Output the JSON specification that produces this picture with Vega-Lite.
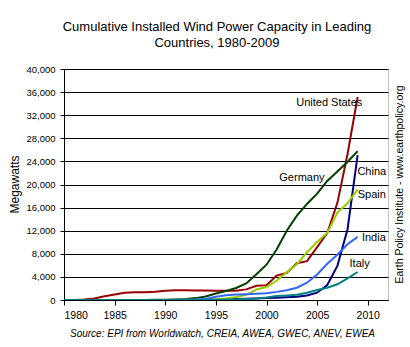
{
  "$schema": "https://vega.github.io/schema/vega-lite/v6.json",
  "width": 324,
  "height": 231,
  "autosize": "none",
  "padding": {"left": 64, "top": 69, "right": 22, "bottom": 47},
  "background": "white",
  "config": {
    "font": "Liberation Sans",
    "view": {"stroke": "#888888", "strokeDash": [1, 1], "strokeWidth": 1},
    "axis": {"labelFont": "Liberation Sans", "titleFont": "Liberation Sans", "labelColor": "black", "titleColor": "black", "titleFontWeight": "normal"}
  },
  "title": {
    "text": ["Cumulative Installed Wind Power Capacity in Leading", "Countries, 1980-2009"],
    "font": "Liberation Sans",
    "fontSize": 13,
    "fontWeight": "normal",
    "color": "black",
    "anchor": "middle",
    "frame": "group",
    "dx": -9,
    "offset": 14,
    "lineHeight": 16
  },
  "datasets": {
    "wind": [
      {"country": "United States", "year": 1980, "mw": 8}, {"country": "United States", "year": 1981, "mw": 18}, {"country": "United States", "year": 1982, "mw": 84}, {"country": "United States", "year": 1983, "mw": 254}, {"country": "United States", "year": 1984, "mw": 653}, {"country": "United States", "year": 1985, "mw": 945}, {"country": "United States", "year": 1986, "mw": 1265}, {"country": "United States", "year": 1987, "mw": 1333}, {"country": "United States", "year": 1988, "mw": 1331}, {"country": "United States", "year": 1989, "mw": 1432}, {"country": "United States", "year": 1990, "mw": 1584}, {"country": "United States", "year": 1991, "mw": 1709}, {"country": "United States", "year": 1992, "mw": 1680}, {"country": "United States", "year": 1993, "mw": 1635}, {"country": "United States", "year": 1994, "mw": 1663}, {"country": "United States", "year": 1995, "mw": 1612}, {"country": "United States", "year": 1996, "mw": 1614}, {"country": "United States", "year": 1997, "mw": 1611}, {"country": "United States", "year": 1998, "mw": 1837}, {"country": "United States", "year": 1999, "mw": 2472}, {"country": "United States", "year": 2000, "mw": 2539}, {"country": "United States", "year": 2001, "mw": 4232}, {"country": "United States", "year": 2002, "mw": 4687}, {"country": "United States", "year": 2003, "mw": 6370}, {"country": "United States", "year": 2004, "mw": 6725}, {"country": "United States", "year": 2005, "mw": 9149}, {"country": "United States", "year": 2006, "mw": 11575}, {"country": "United States", "year": 2007, "mw": 16824}, {"country": "United States", "year": 2008, "mw": 25237}, {"country": "United States", "year": 2009, "mw": 35159},
      {"country": "Germany", "year": 1980, "mw": 0}, {"country": "Germany", "year": 1981, "mw": 0}, {"country": "Germany", "year": 1982, "mw": 0}, {"country": "Germany", "year": 1983, "mw": 0}, {"country": "Germany", "year": 1984, "mw": 0}, {"country": "Germany", "year": 1985, "mw": 0}, {"country": "Germany", "year": 1986, "mw": 0}, {"country": "Germany", "year": 1987, "mw": 5}, {"country": "Germany", "year": 1988, "mw": 15}, {"country": "Germany", "year": 1989, "mw": 27}, {"country": "Germany", "year": 1990, "mw": 56}, {"country": "Germany", "year": 1991, "mw": 106}, {"country": "Germany", "year": 1992, "mw": 174}, {"country": "Germany", "year": 1993, "mw": 326}, {"country": "Germany", "year": 1994, "mw": 618}, {"country": "Germany", "year": 1995, "mw": 1121}, {"country": "Germany", "year": 1996, "mw": 1549}, {"country": "Germany", "year": 1997, "mw": 2081}, {"country": "Germany", "year": 1998, "mw": 2875}, {"country": "Germany", "year": 1999, "mw": 4442}, {"country": "Germany", "year": 2000, "mw": 6113}, {"country": "Germany", "year": 2001, "mw": 8754}, {"country": "Germany", "year": 2002, "mw": 11994}, {"country": "Germany", "year": 2003, "mw": 14609}, {"country": "Germany", "year": 2004, "mw": 16629}, {"country": "Germany", "year": 2005, "mw": 18428}, {"country": "Germany", "year": 2006, "mw": 20622}, {"country": "Germany", "year": 2007, "mw": 22247}, {"country": "Germany", "year": 2008, "mw": 23903}, {"country": "Germany", "year": 2009, "mw": 25777},
      {"country": "China", "year": 1980, "mw": 0}, {"country": "China", "year": 1981, "mw": 0}, {"country": "China", "year": 1982, "mw": 0}, {"country": "China", "year": 1983, "mw": 0}, {"country": "China", "year": 1984, "mw": 0}, {"country": "China", "year": 1985, "mw": 0}, {"country": "China", "year": 1986, "mw": 0}, {"country": "China", "year": 1987, "mw": 0}, {"country": "China", "year": 1988, "mw": 0}, {"country": "China", "year": 1989, "mw": 0}, {"country": "China", "year": 1990, "mw": 4}, {"country": "China", "year": 1991, "mw": 5}, {"country": "China", "year": 1992, "mw": 8}, {"country": "China", "year": 1993, "mw": 14}, {"country": "China", "year": 1994, "mw": 30}, {"country": "China", "year": 1995, "mw": 44}, {"country": "China", "year": 1996, "mw": 79}, {"country": "China", "year": 1997, "mw": 170}, {"country": "China", "year": 1998, "mw": 224}, {"country": "China", "year": 1999, "mw": 268}, {"country": "China", "year": 2000, "mw": 346}, {"country": "China", "year": 2001, "mw": 402}, {"country": "China", "year": 2002, "mw": 473}, {"country": "China", "year": 2003, "mw": 571}, {"country": "China", "year": 2004, "mw": 769}, {"country": "China", "year": 2005, "mw": 1264}, {"country": "China", "year": 2006, "mw": 2599}, {"country": "China", "year": 2007, "mw": 5912}, {"country": "China", "year": 2008, "mw": 12210}, {"country": "China", "year": 2009, "mw": 25104},
      {"country": "Spain", "year": 1980, "mw": 0}, {"country": "Spain", "year": 1981, "mw": 0}, {"country": "Spain", "year": 1982, "mw": 0}, {"country": "Spain", "year": 1983, "mw": 0}, {"country": "Spain", "year": 1984, "mw": 0}, {"country": "Spain", "year": 1985, "mw": 0}, {"country": "Spain", "year": 1986, "mw": 0}, {"country": "Spain", "year": 1987, "mw": 0}, {"country": "Spain", "year": 1988, "mw": 0}, {"country": "Spain", "year": 1989, "mw": 0}, {"country": "Spain", "year": 1990, "mw": 7}, {"country": "Spain", "year": 1991, "mw": 7}, {"country": "Spain", "year": 1992, "mw": 50}, {"country": "Spain", "year": 1993, "mw": 60}, {"country": "Spain", "year": 1994, "mw": 75}, {"country": "Spain", "year": 1995, "mw": 115}, {"country": "Spain", "year": 1996, "mw": 249}, {"country": "Spain", "year": 1997, "mw": 512}, {"country": "Spain", "year": 1998, "mw": 880}, {"country": "Spain", "year": 1999, "mw": 1812}, {"country": "Spain", "year": 2000, "mw": 2235}, {"country": "Spain", "year": 2001, "mw": 3337}, {"country": "Spain", "year": 2002, "mw": 4825}, {"country": "Spain", "year": 2003, "mw": 6203}, {"country": "Spain", "year": 2004, "mw": 8264}, {"country": "Spain", "year": 2005, "mw": 10028}, {"country": "Spain", "year": 2006, "mw": 11623}, {"country": "Spain", "year": 2007, "mw": 15145}, {"country": "Spain", "year": 2008, "mw": 16740}, {"country": "Spain", "year": 2009, "mw": 19149},
      {"country": "India", "year": 1980, "mw": 0}, {"country": "India", "year": 1981, "mw": 0}, {"country": "India", "year": 1982, "mw": 0}, {"country": "India", "year": 1983, "mw": 0}, {"country": "India", "year": 1984, "mw": 0}, {"country": "India", "year": 1985, "mw": 0}, {"country": "India", "year": 1986, "mw": 0}, {"country": "India", "year": 1987, "mw": 0}, {"country": "India", "year": 1988, "mw": 0}, {"country": "India", "year": 1989, "mw": 0}, {"country": "India", "year": 1990, "mw": 20}, {"country": "India", "year": 1991, "mw": 39}, {"country": "India", "year": 1992, "mw": 41}, {"country": "India", "year": 1993, "mw": 79}, {"country": "India", "year": 1994, "mw": 185}, {"country": "India", "year": 1995, "mw": 576}, {"country": "India", "year": 1996, "mw": 820}, {"country": "India", "year": 1997, "mw": 940}, {"country": "India", "year": 1998, "mw": 1015}, {"country": "India", "year": 1999, "mw": 1077}, {"country": "India", "year": 2000, "mw": 1167}, {"country": "India", "year": 2001, "mw": 1407}, {"country": "India", "year": 2002, "mw": 1702}, {"country": "India", "year": 2003, "mw": 2125}, {"country": "India", "year": 2004, "mw": 3000}, {"country": "India", "year": 2005, "mw": 4430}, {"country": "India", "year": 2006, "mw": 6270}, {"country": "India", "year": 2007, "mw": 7845}, {"country": "India", "year": 2008, "mw": 9655}, {"country": "India", "year": 2009, "mw": 10925},
      {"country": "Italy", "year": 1980, "mw": 0}, {"country": "Italy", "year": 1981, "mw": 0}, {"country": "Italy", "year": 1982, "mw": 0}, {"country": "Italy", "year": 1983, "mw": 0}, {"country": "Italy", "year": 1984, "mw": 0}, {"country": "Italy", "year": 1985, "mw": 0}, {"country": "Italy", "year": 1986, "mw": 0}, {"country": "Italy", "year": 1987, "mw": 0}, {"country": "Italy", "year": 1988, "mw": 0}, {"country": "Italy", "year": 1989, "mw": 0}, {"country": "Italy", "year": 1990, "mw": 3}, {"country": "Italy", "year": 1991, "mw": 3}, {"country": "Italy", "year": 1992, "mw": 8}, {"country": "Italy", "year": 1993, "mw": 22}, {"country": "Italy", "year": 1994, "mw": 22}, {"country": "Italy", "year": 1995, "mw": 25}, {"country": "Italy", "year": 1996, "mw": 70}, {"country": "Italy", "year": 1997, "mw": 103}, {"country": "Italy", "year": 1998, "mw": 180}, {"country": "Italy", "year": 1999, "mw": 277}, {"country": "Italy", "year": 2000, "mw": 427}, {"country": "Italy", "year": 2001, "mw": 682}, {"country": "Italy", "year": 2002, "mw": 788}, {"country": "Italy", "year": 2003, "mw": 905}, {"country": "Italy", "year": 2004, "mw": 1266}, {"country": "Italy", "year": 2005, "mw": 1718}, {"country": "Italy", "year": 2006, "mw": 2123}, {"country": "Italy", "year": 2007, "mw": 2726}, {"country": "Italy", "year": 2008, "mw": 3736}, {"country": "Italy", "year": 2009, "mw": 4850}
    ],
    "labels": [
      {"country": "United States", "year": 2006.2, "mw": 34050},
      {"country": "Germany", "year": 2003.5, "mw": 21060},
      {"country": "China", "year": 2010.4, "mw": 22100},
      {"country": "Spain", "year": 2010.4, "mw": 18110},
      {"country": "India", "year": 2010.6, "mw": 10660},
      {"country": "Italy", "year": 2009.2, "mw": 6150}
    ],
    "side": [
      {"note": "Earth Policy Institute - www.earthpolicy.org", "year": 2012, "mw": 20000}
    ]
  },
  "encoding": {
    "x": {
      "field": "year", "type": "quantitative",
      "scale": {"domain": [1980, 2012], "nice": false, "zero": false},
      "axis": {
        "values": [1980, 1985, 1990, 1995, 2000, 2005, 2010],
        "format": "d",
        "grid": false,
        "domainColor": "black",
        "tickColor": "black",
        "tickSize": 5,
        "labelFontSize": 10.5,
        "labelPadding": 5,
        "title": "Source: EPI from Worldwatch, CREIA, AWEA, GWEC, ANEV, EWEA",
        "titleFontStyle": "italic",
        "titleFontSize": 10,
        "titlePadding": 8,
        "titleX": 158
      }
    },
    "y": {
      "field": "mw", "type": "quantitative",
      "scale": {"domain": [0, 40000], "nice": false},
      "axis": {
        "values": [0, 4000, 8000, 12000, 16000, 20000, 24000, 28000, 32000, 36000, 40000],
        "format": ",.0f",
        "grid": true,
        "gridColor": "black",
        "gridOpacity": 1,
        "gridWidth": 1,
        "domainColor": "black",
        "tickColor": "black",
        "tickSize": 4,
        "labelFontSize": 9.5,
        "labelPadding": 5,
        "title": "Megawatts",
        "titleFontSize": 12,
        "titleX": -50,
        "titleY": 115,
        "titleAlign": "center",
        "titleBaseline": "middle",
        "titleAngle": 270
      }
    }
  },
  "layer": [
    {
      "data": {"name": "wind"},
      "mark": {"type": "line", "strokeWidth": 2, "clip": true},
      "encoding": {
        "color": {
          "field": "country", "type": "nominal",
          "scale": {
            "domain": ["United States", "Germany", "China", "Spain", "India", "Italy"],
            "range": ["#990000", "#004000", "#000080", "#99CC00", "#3366FF", "#008080"]
          },
          "legend": null
        }
      }
    },
    {
      "data": {"name": "labels"},
      "mark": {"type": "text", "font": "Liberation Sans", "fontSize": 11, "color": "black", "align": "center", "baseline": "middle"},
      "encoding": {
        "text": {"field": "country"}
      }
    },
    {
      "data": {"name": "side"},
      "mark": {"type": "text", "font": "Liberation Sans", "fontSize": 10.5, "color": "black", "align": "center", "baseline": "middle", "angle": 270, "dy": 12},
      "encoding": {
        "text": {"field": "note"}
      }
    }
  ]
}
